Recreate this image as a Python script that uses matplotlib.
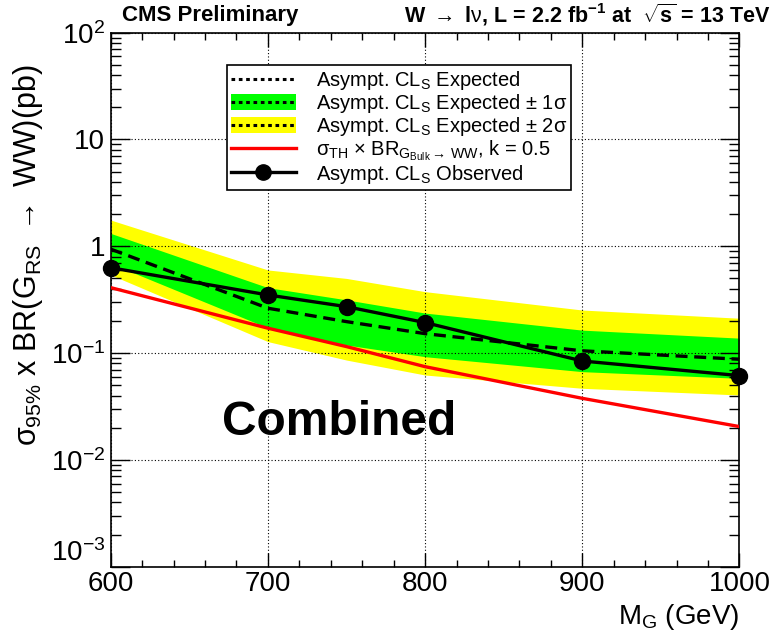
import matplotlib
matplotlib.use("Agg")
import matplotlib.pyplot as plt
from matplotlib.lines import Line2D
from matplotlib.patches import Patch
from matplotlib.ticker import FixedLocator, FixedFormatter, MultipleLocator

plt.rcParams['font.family'] = ['Liberation Sans', 'DejaVu Sans']
plt.rcParams['mathtext.fontset'] = 'custom'
plt.rcParams['mathtext.rm'] = 'Liberation Sans'
plt.rcParams['mathtext.it'] = 'Liberation Sans'
plt.rcParams['mathtext.bf'] = 'Liberation Sans:bold'
plt.rcParams['mathtext.sf'] = 'Liberation Sans'

# Graviton mass points (GeV)
mass = [600, 700, 750, 800, 900, 1000]

# 95% CL upper limits on sigma x BR (pb)
observed = [0.63, 0.35, 0.272, 0.193, 0.0843, 0.0615]
expected = [0.94, 0.263, 0.197, 0.152, 0.105, 0.0875]
exp_1s_lo = [0.69, 0.172, 0.119, 0.0925, 0.067, 0.058]
exp_1s_hi = [1.32, 0.41, 0.315, 0.237, 0.164, 0.138]
exp_2s_lo = [0.54, 0.128, 0.086, 0.0623, 0.0468, 0.0405]
exp_2s_hi = [1.76, 0.60, 0.50, 0.376, 0.253, 0.212]

# Theory prediction, Bulk graviton with k = 0.5
theory = [0.41, 0.171, 0.115, 0.0746, 0.0377, 0.0205]

x_ticks = [600, 700, 800, 900, 1000]
y_ticks = [1e-3, 1e-2, 1e-1, 1, 10, 100]
y_tick_labels = [r"$10^{-3}$", r"$10^{-2}$", r"$10^{-1}$", "1", "10", r"$10^{2}$"]

fig = plt.figure(figsize=(7.8, 6.37), dpi=100)
ax = fig.add_axes([0.142, 0.1104, 0.806, 0.8383])

ax.fill_between(mass, exp_2s_lo, exp_2s_hi, color='#ffff00', lw=0, zorder=1)
ax.fill_between(mass, exp_1s_lo, exp_1s_hi, color='#00ff00', lw=0, zorder=1.1)
ax.plot(mass, theory, color='#ff0000', lw=2.4, zorder=3)
ax.plot(mass, expected, color='black', lw=2.4, ls=(0, (3.6, 2.0)), zorder=3.5)
ax.plot(mass, observed, color='black', lw=2.4, marker='o', markersize=11.5,
        clip_on=False, zorder=4)

ax.set_yscale('log')
ax.set_xlim(600, 1000)
ax.set_ylim(1e-3, 1e2)

ax.xaxis.set_major_locator(FixedLocator(x_ticks))
ax.xaxis.set_minor_locator(MultipleLocator(20))
ax.yaxis.set_major_locator(FixedLocator(y_ticks))
ax.yaxis.set_major_formatter(FixedFormatter(y_tick_labels))
ax.yaxis.set_minor_locator(matplotlib.ticker.LogLocator(base=10, subs=range(2, 10)))
ax.yaxis.set_minor_formatter(matplotlib.ticker.NullFormatter())

ax.tick_params(which='both', direction='in', top=True, right=True,
               labelsize=20, colors='black')
ax.tick_params(axis='x', which='major', length=10, width=1, pad=3)
ax.tick_params(axis='x', which='minor', length=5, width=1)
ax.tick_params(axis='y', which='major', length=14, width=1, pad=4)
ax.tick_params(axis='y', which='minor', length=7, width=1)

# lift the lowest decade label so it sits just above the 600 label
ax.yaxis.get_major_ticks()[0].label1.set_verticalalignment('bottom')

ax.set_axisbelow(False)
ax.grid(True, which='major', color='black', ls=(0, (1, 2)), lw=0.8)

for s in ax.spines.values():
    s.set_linewidth(1.2)

handles = [
    Line2D([], [], color='black', ls=(0, (1.2, 1.2)), lw=2.2),
    (Patch(facecolor='#00ff00', edgecolor='none'),
     Line2D([], [], color='black', ls=(0, (1.2, 1.2)), lw=2.2)),
    (Patch(facecolor='#ffff00', edgecolor='none'),
     Line2D([], [], color='black', ls=(0, (1.2, 1.2)), lw=2.2)),
    Line2D([], [], color='#ff0000', lw=2.4),
    Line2D([], [], color='black', lw=2.4, marker='o', markersize=11),
]
labels = [
    r"Asympt. CL$_{\rm S}$ Expected",
    r"Asympt. CL$_{\rm S}$ Expected $\pm$ 1$\sigma$",
    r"Asympt. CL$_{\rm S}$ Expected $\pm$ 2$\sigma$",
    r"$\sigma_{\rm TH}$ $\times$ BR$_{{\rm G}_{\rm Bulk}\rightarrow\,{\rm WW}}$, k = 0.5",
    r"Asympt. CL$_{\rm S}$ Observed",
]
leg = ax.legend(handles, labels, loc='upper left', bbox_to_anchor=(0.185, 0.9395),
                fontsize=14.5, frameon=True, fancybox=False, shadow=False,
                edgecolor='black', framealpha=1, borderpad=0.2, labelspacing=0.0,
                handlelength=3.2, handleheight=0.85, handletextpad=1.0,
                borderaxespad=0)
leg.get_frame().set_linewidth(1.2)
leg.set_zorder(10)

fig.text(0.156, 0.976, "CMS Preliminary", fontsize=16, fontweight='bold',
         ha='left', va='center')
fig.text(0.987, 0.976, r"W $\rightarrow$ l$\nu$, L = 2.2 fb$^{\mathbf{-1}}$ at  $\sqrt{\mathbf{s}}$ = 13 TeV",
         fontsize=15.5, fontweight='bold', ha='right', va='center')
fig.text(0.285, 0.336, "Combined", fontsize=34.5, fontweight='bold',
         ha='left', va='center')

fig.text(0.948, 0.008, r"M$_{\rm G}$ (GeV)", fontsize=20, ha='right', va='bottom')
fig.text(0.036, 0.6, r"$\sigma_{95\%}$ x BR(G$_{\rm RS}$ $\rightarrow$ WW)(pb)",
         fontsize=22, rotation=90, ha='center', va='center')

fig.savefig("out.png", dpi=100)
